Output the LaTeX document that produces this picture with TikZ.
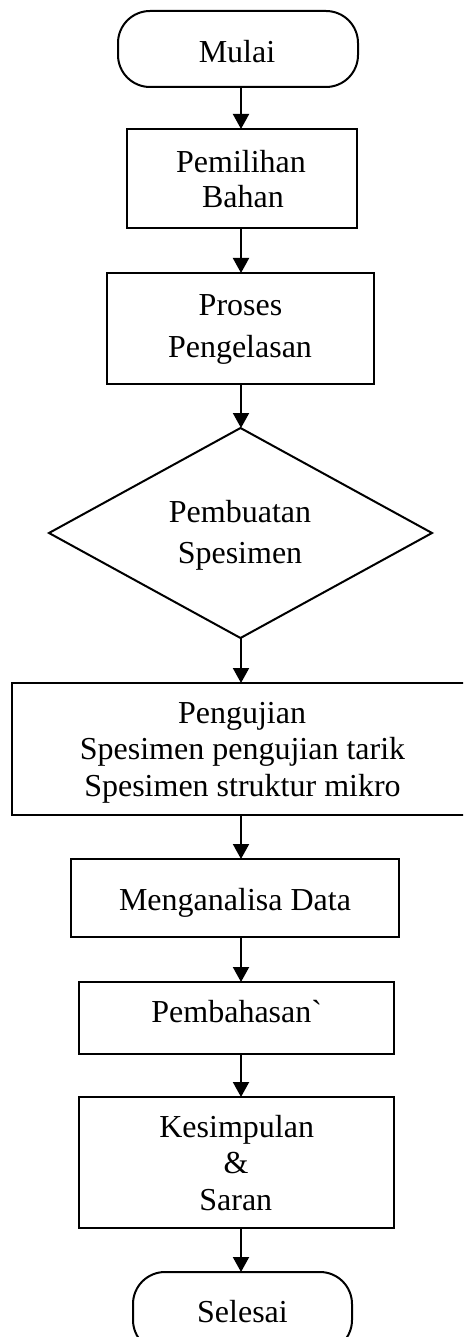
\documentclass[tikz,border=0pt]{standalone}
\usepackage{fontspec}
\setmainfont{Liberation Serif}[Ligatures=TeXOff]
\usetikzlibrary{shapes.geometric,arrows.meta}
\begin{document}
\begin{tikzpicture}[x=1pt,y=-1pt,
  box/.style={draw,line width=2pt,inner sep=0pt,outer sep=0pt},
  term/.style={box,rounded corners=32pt},
  dec/.style={draw,line width=2pt,diamond,inner sep=0pt,outer sep=0pt},
  txt/.style={anchor=base,inner sep=0pt,font=\fontsize{32}{37}\selectfont},
  arr/.style={line width=2pt,-{Triangle[width=16pt,length=15pt]}}]
\clip (0,0) rectangle (463,1337);
\coordinate (ax) at (241,0);
% shapes
\node[term,minimum width=240pt,minimum height=76pt] (mulai) at (238,49) {};
\node[box,minimum width=230pt,minimum height=99pt] (pemilihan) at (242,178.5) {};
\node[box,minimum width=267pt,minimum height=111pt] (proses) at (240.5,328.5) {};
\node[dec,minimum width=383pt,minimum height=210pt] (pembuatan) at (240.5,533) {};
\node[box,minimum width=460pt,minimum height=132pt] (pengujian) at (242,749) {};
\node[box,minimum width=328pt,minimum height=78pt] (analisa) at (235,898) {};
\node[box,minimum width=315pt,minimum height=72pt] (bahas) at (236.5,1018) {};
\node[box,minimum width=315pt,minimum height=131pt] (simpul) at (236.5,1162.5) {};
\node[term,minimum width=219pt,minimum height=80pt] (selesai) at (242.5,1312) {};
% texts
\node[txt] (t1) at (237,63) {Mulai};
\node[txt] (t2a) at (241,173) {Pemilihan};
\node[txt] (t2b) at (243,208) {Bahan};
\node[txt] (t3a) at (240.5,316) {Proses};
\node[txt] (t3b) at (240,357) {Pengelasan};
\node[txt] (t4a) at (240,522) {Pembuatan};
\node[txt] (t4b) at (240,563) {Spesimen};
\node[txt] (t5a) at (242,723) {Pengujian};
\node[txt] (t5b) at (242.5,759) {Spesimen pengujian tarik};
\node[txt] (t5c) at (242.5,796) {Spesimen struktur mikro};
\node[txt] (t6) at (235,910) {Menganalisa Data};
\node[txt] (t7) at (236.7,1022) {Pembahasan`};
\node[txt] (t8a) at (236.7,1137) {Kesimpulan};
\node[txt] (t8b) at (236,1173) {\&};
\node[txt] (t8c) at (235.8,1210) {Saran};
\node[txt] (t9) at (242.5,1322) {Selesai};
% connectors
\draw[arr] (mulai.south -| ax) -- (pemilihan.north -| ax);
\draw[arr] (pemilihan.south -| ax) -- (proses.north -| ax);
\draw[arr] (proses.south -| ax) -- (pembuatan.north -| ax);
\draw[arr] (pembuatan.south -| ax) -- (pengujian.north -| ax);
\draw[arr] (pengujian.south -| ax) -- (analisa.north -| ax);
\draw[arr] (analisa.south -| ax) -- (bahas.north -| ax);
\draw[arr] (bahas.south -| ax) -- (simpul.north -| ax);
\draw[arr] (simpul.south -| ax) -- (selesai.north -| ax);
\end{tikzpicture}
\end{document}
